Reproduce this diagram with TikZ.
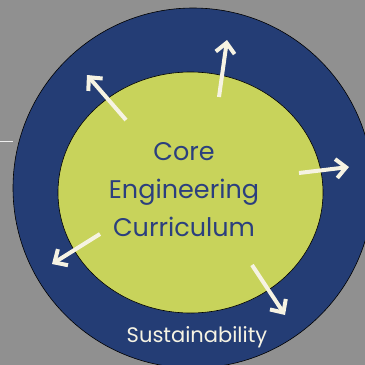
\documentclass[tikz,border=0pt]{standalone}
\usepackage{fontspec}
\setmainfont{Poppins}
\usetikzlibrary{shapes.geometric,arrows.meta}
\definecolor{slate}{HTML}{909090}
\definecolor{navy}{HTML}{243D75}
\definecolor{lime}{HTML}{C8D35B}
\definecolor{ink}{HTML}{2B3F7E}
\definecolor{cream}{HTML}{F6F3E3}
\tikzstyle{ring}=[circle, draw=black, line width=0.6pt, fill=navy,
  minimum size=360pt, inner sep=0pt]
\tikzstyle{core}=[ellipse, draw=black, line width=0.6pt, fill=lime,
  minimum width=265pt, minimum height=241pt, inner sep=0pt]
\tikzstyle{texto}=[text=ink, align=center, font=\fontsize{25.5}{38}\selectfont]
\tikzstyle{arrowline}=[draw, line width=4pt, color=cream,
  -{Straight Barb[length=10pt,width=19pt]}]
\begin{document}
\begin{tikzpicture}[x=1pt,y=-1pt]
  \useasboundingbox (0,0) rectangle (365,365);
  \clip (0,0) rectangle (365,365);
  \fill[slate] (0,0) rectangle (365,365);

  % Draw the two circles
  \node (outer) [ring] at (193,188) {};
  \node (inner) [core] at (190.5,192.5) {};
  \draw[white!85!slate, line width=0.8pt] (0,141.5) -- (outer.west |- 0,141.5);

  % Texts
  \node (title) [texto] at (184,190) {Core\\Engineering\\Curriculum};
  \node (ring label) [text=cream, font=\fontsize{21}{24}\selectfont]
    at (197,337) {Sustainability};

  % Arrow end points
  \coordinate (s1) at (126,120); \coordinate (e1) at (87,75);
  \coordinate (s2) at (219,97);  \coordinate (e2) at (227,40);
  \coordinate (s3) at (299,173); \coordinate (e3) at (349,167);
  \coordinate (s4) at (100,234); \coordinate (e4) at (52,264);
  \coordinate (s5) at (252,265); \coordinate (e5) at (285,315);

  % Draw arrows
  \foreach \i in {1,...,5}
    \path [arrowline] (s\i) -- (e\i);
\end{tikzpicture}
\end{document}
